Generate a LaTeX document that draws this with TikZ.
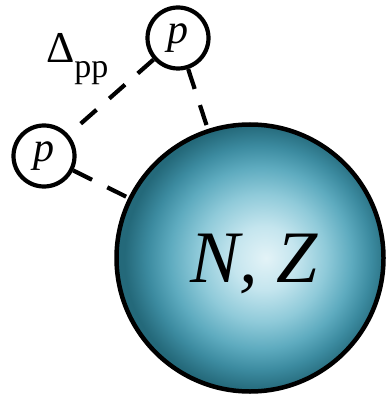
\documentclass[tikz,border=0pt]{standalone}
\usepackage{fontspec}
\setmainfont{Liberation Serif}
\definecolor{bcA}{HTML}{E3F3F7}
\definecolor{bcB}{HTML}{C4E5EE}
\definecolor{bcC}{HTML}{8FCAD9}
\definecolor{bcD}{HTML}{5EABBF}
\definecolor{bcE}{HTML}{3C8BA0}
\definecolor{bcF}{HTML}{2A7183}
\definecolor{bcG}{HTML}{24697A}
\pgfdeclareradialshading{ballshade}{\pgfpoint{3bp}{0bp}}{%
color(0bp)=(bcA); color(6bp)=(bcB); color(12bp)=(bcC); color(17bp)=(bcD);
color(21bp)=(bcE); color(24bp)=(bcF); color(25bp)=(bcG); color(50bp)=(bcG)}
\begin{document}
\begin{tikzpicture}[x=1pt,y=-1pt,
  pcirc/.style={circle, draw=black, line width=4.2pt, fill=white, minimum size=61pt, inner sep=0pt,
    font=\fontsize{42}{42}\selectfont\itshape},
  ballnode/.style={circle, draw=black, line width=4.5pt, shading=ballshade, minimum size=267pt, inner sep=0pt},
  dashline/.style={draw=black, line width=4.2pt, dash pattern=on 21pt off 17pt}]
\useasboundingbox (0,0) rectangle (389,395);
\node[ballnode] (ball) at (250,258) {};
\node[anchor=base, inner sep=0pt, font=\fontsize{74}{74}\selectfont\itshape] (nz) at (254,282) {N, Z};
\node[pcirc] (p1) at (178,38) {p};
\node[pcirc] (p2) at (44,156) {p};
\draw[dashline] (p1) -- (p2);
\draw[dashline] (p1) -- (ball);
\draw[dashline] (p2) -- (ball);
\node[anchor=base west, inner sep=0pt] (lbl) at (46,63) {\fontsize{44}{44}\selectfont Δ\raisebox{-14.6pt}{\fontsize{34}{34}\selectfont pp}};
\end{tikzpicture}
\end{document}
